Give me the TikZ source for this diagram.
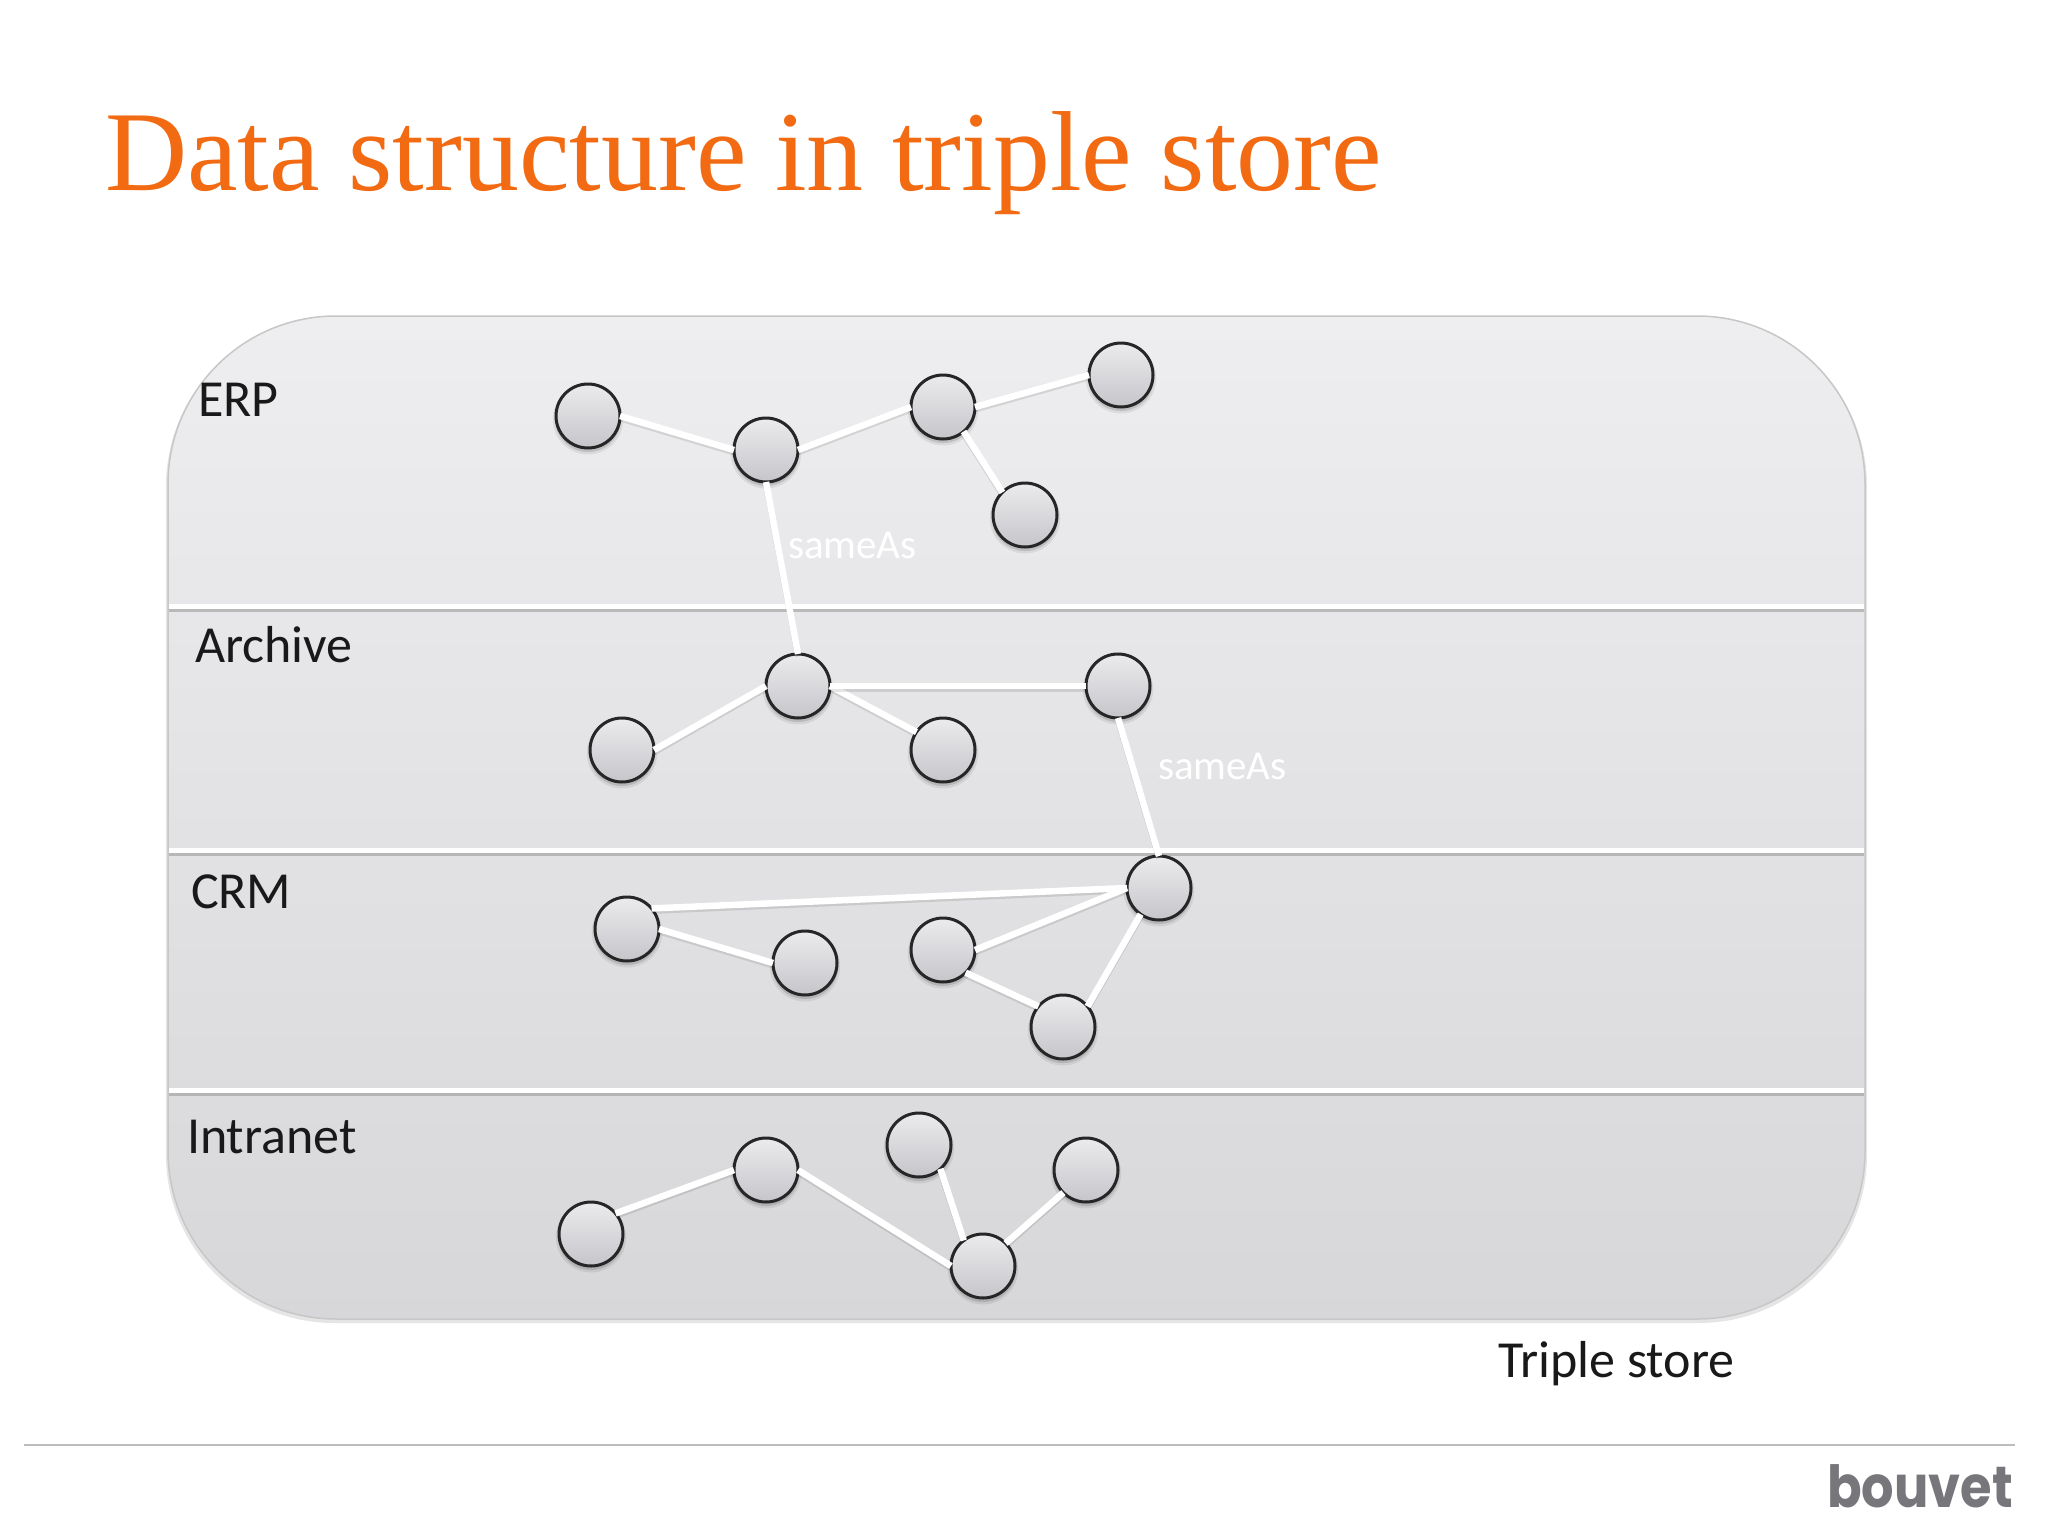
\documentclass[tikz,border=0pt]{standalone}
\usepackage{fontspec}
\setmainfont{Carlito}
\newfontfamily\titlefont{Liberation Serif}
\newfontfamily\logofont[FakeStretch=0.88]{Poppins}
\usetikzlibrary{shadows}
\definecolor{titleor}{HTML}{F26A12}
\definecolor{panelTop}{HTML}{EEEDEF}
\definecolor{panelBot}{HTML}{D7D6D9}
\definecolor{ruleGrey}{HTML}{BDBCBE}
\definecolor{logoGrey}{HTML}{77767A}
\definecolor{resTop}{HTML}{EBEBED}
\definecolor{resBot}{HTML}{C6C5CA}
\tikzset{
  res/.style={circle,draw=black!85,line width=3pt,minimum size=64pt,inner sep=0pt,outer sep=0pt,
    top color=resTop,bottom color=resBot,
    general shadow={shadow xshift=0pt,shadow yshift=-3pt,shadow scale=1.1,fill=black,opacity=.07},
    general shadow={shadow xshift=0pt,shadow yshift=-3pt,shadow scale=1.03,fill=black,opacity=.12}},
  edgeline/.style={draw=white,line width=6.5pt},
  edgeshadow/.style={draw=black,opacity=.10,line width=6pt,transform canvas={yshift=-2.5pt}},
  lab/.style={anchor=base west,inner sep=0pt,outer sep=0pt,font=\fontsize{52}{52}\selectfont,text=black!90},
  same/.style={anchor=base west,inner sep=0pt,outer sep=0pt,font=\fontsize{41}{41}\selectfont,text=white},
  sep/.style={draw=white,line width=5pt},
  sepshadow/.style={draw=black!35,line width=4pt,opacity=.7}
}
\newcommand{\edge}[2]{\draw[edgeshadow] (#1) -- (#2);\draw[edgeline] (#1) -- (#2);}
\begin{document}
\begin{tikzpicture}[x=1pt,y=-1pt]
\useasboundingbox[fill=white] (0,0) rectangle (2048,1536);
% panel
\fill[black,opacity=.10,rounded corners=168pt] (166,318) rectangle (1867,1323);
\shade[top color=panelTop,bottom color=panelBot,draw=black!22,line width=1.5pt,rounded corners=168pt] (168,316) rectangle (1865,1319);
% separators
\coordinate (s1l) at (169,610);\coordinate (s1r) at (1864,610);
\coordinate (s2l) at (169,853.5);\coordinate (s2r) at (1864,853.5);
\coordinate (s3l) at (169,1094);\coordinate (s3r) at (1864,1094);
\foreach \a/\b in {s1l/s1r,s2l/s2r,s3l/s3r}{\draw[sepshadow] (\a) -- (\b);}
\draw[sep] (169,606.5) -- (1864,606.5);
\draw[sep] (169,850) -- (1864,850);
\draw[sep] (169,1090.5) -- (1864,1090.5);
% title
\node[anchor=base west,inner sep=0pt,text=titleor,font=\titlefont\fontsize{113.8}{114}\selectfont] (title) at (105,190) {Data structure in triple store};
% labels
\node[lab] (lerp) at (198,416) {ERP};
\node[lab] (larch) at (195,662) {Archive};
\node[lab] (lcrm) at (191,908) {CRM};
\node[lab] (lintra) at (187,1153) {Intranet};
\node[lab] (ltriple) at (1498,1377) {Triple store};
\node[same] (same1) at (788,558) {sameAs};
\node[same] (same2) at (1158,779) {sameAs};
% nodes
\foreach \n/\x/\y in {a1/588/416,a2/766/450,a3/943/407,a4/1121/375,a5/1025/515,
  b1/798/686,b2/622/750,b3/943/750,b4/1118/686,
  c1/1159/888,c2/627/929,c3/805/963,c4/943/950,c5/1063/1027,
  d1/591/1234,d2/766/1170,d3/919/1145,d4/1086/1170,d5/983/1266}{
  \node[res] (\n) at (\x,\y) {};
}
% connectors
\edge{a1.east}{a2.west}
\edge{a2.east}{a3.west}
\edge{a3.east}{a4.west}
\edge{a3.-50}{a5.135}
\edge{a2.south}{b1.north}
\edge{b1.west}{b2.east}
\edge{b1.east}{b3.146}
\edge{b1.east}{b4.west}
\edge{b4.south}{c1.north}
\edge{c1.west}{c2.40}
\edge{c2.east}{c3.west}
\edge{c1.west}{c4.east}
\edge{c4.-45}{c5.140}
\edge{c5.40}{c1.235}
\edge{d1.40}{d2.west}
\edge{d2.east}{d5.west}
\edge{d3.-48}{d5.127}
\edge{d5.45}{d4.225}
% footer
\coordinate (rl) at (24,1445);\coordinate (rr) at (2015,1445);
\draw[ruleGrey,line width=2.2pt] (rl) -- (rr);
\node[anchor=base west,inner sep=0pt,text=logoGrey,font=\logofont\bfseries\fontsize{58}{58}\selectfont] (logo) at (1827,1507) {bouvet};
\end{tikzpicture}
\end{document}
